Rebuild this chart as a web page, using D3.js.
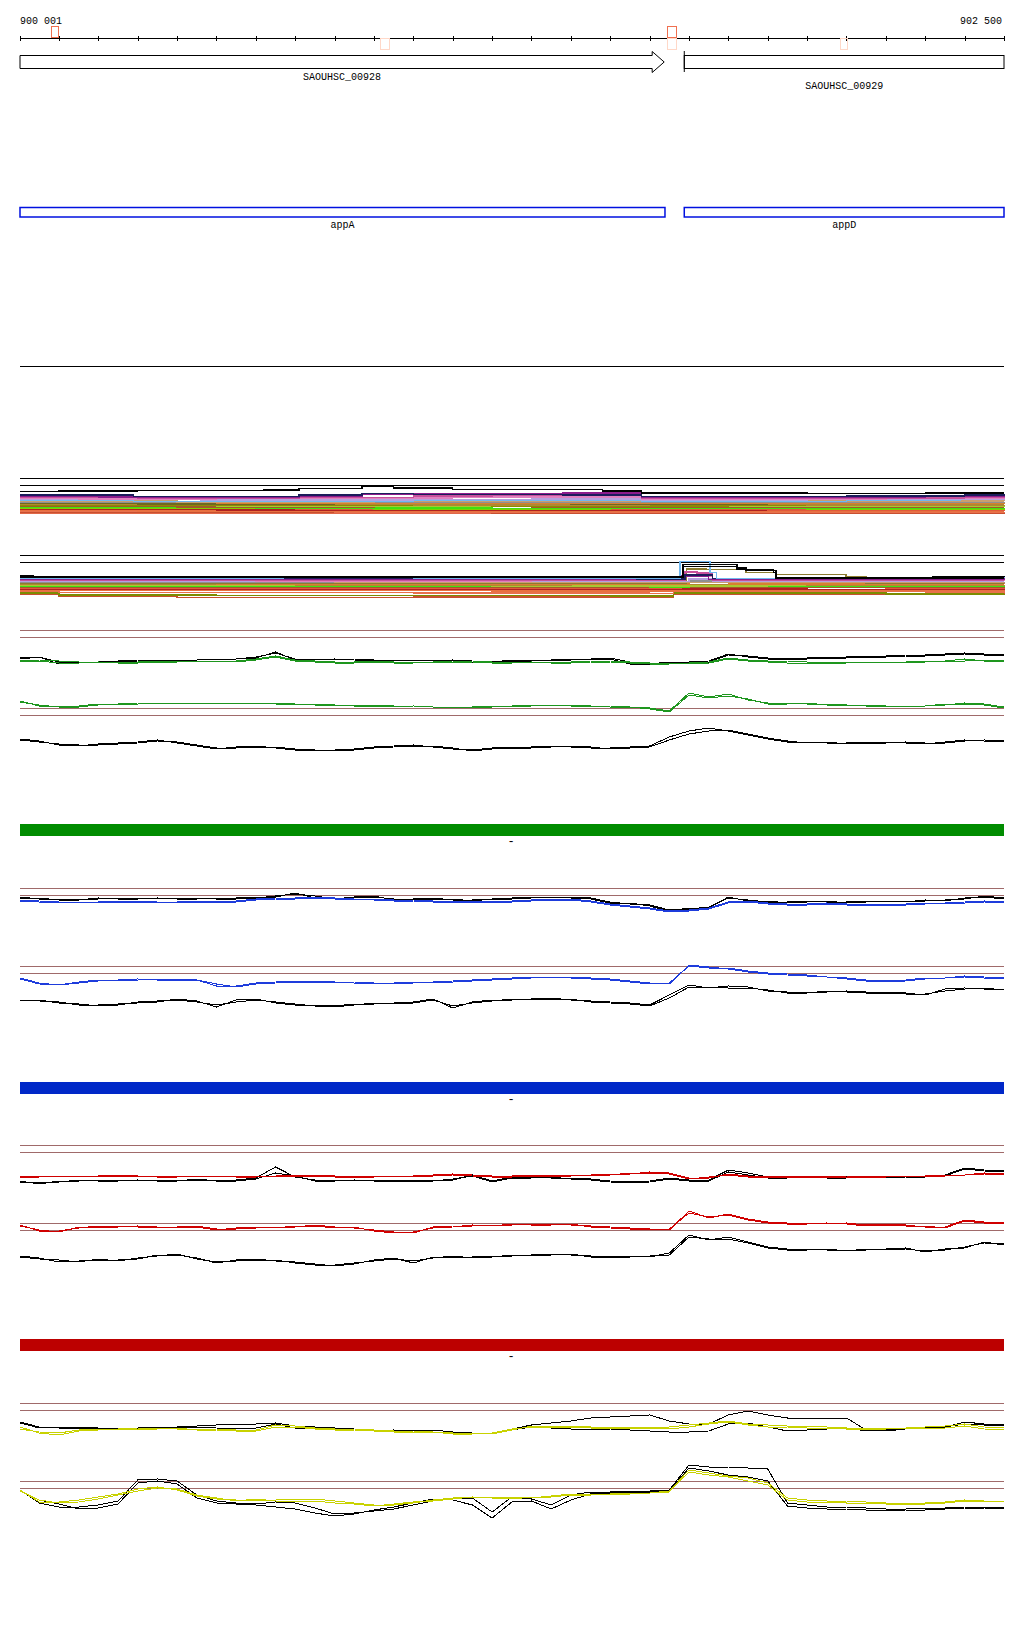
<!DOCTYPE html>
<html>
<head>
<meta charset="utf-8">
<script src="https://cdnjs.cloudflare.com/ajax/libs/d3/7.8.5/d3.min.js"></script>
<style>
body { margin:0; background:#fff; }
svg text { font-family:"Liberation Mono", "DejaVu Sans Mono", monospace; font-size:10px; fill:#000; }
</style>
</head>
<body>
<svg id="browser" width="1024" height="1640"></svg>
<script>
var startBp = 900001, endBp = 902500;
var rulerLabels = ["900 001", "902 500"];

// little feature boxes on the ruler
var markStart = [900080, 901644, 900915, 901644, 902083];
var markEnd   = [900098, 901667, 900938, 901667, 902102];
var markSide  = ["up", "up", "down", "down", "down"];
var markColor = ["#f07050", "#f07050", "#ffd8c8", "#ffd8c8", "#ffd8c8"];

var geneNames = ["SAOUHSC_00928", "SAOUHSC_00929"];
var geneStart = [900001, 901688];
var geneEnd   = [901637, 902500];
var operonNames = ["appA", "appD"];
var operonStart = [900001, 901688];
var operonEnd   = [901639, 902500];

// sample grid, every 50 bp
var gridBp = d3.range(51).map(function(i){ return i === 0 ? startBp : 900000 + 50 * i; });

// green condition
var grnP1k1 = [12.1,12.3,11.8,11.8,11.8,11.9,12.0,12.0,12.0,12.0,12.1,12.1,12.3,12.7,12.1,12.1,12.1,12.1,12.0,12.0,12.0,11.9,12.0,11.8,11.8,12.0,12.0,12.0,12.1,12.1,12.2,11.8,11.6,11.8,11.8,11.8,12.5,12.4,12.2,12.2,12.2,12.3,12.3,12.4,12.4,12.5,12.5,12.6,12.7,12.6,12.6];
var grnP1k2 = [12.2,12.3,11.6,11.7,11.8,11.8,11.9,12.0,12.0,12.0,12.1,12.1,12.2,12.8,12.0,12.0,12.1,12.0,11.9,11.9,12.0,12.0,12.0,11.9,11.7,11.9,11.9,12.0,12.0,12.1,12.1,11.6,11.5,11.7,11.8,11.9,12.6,12.3,12.1,12.1,12.1,12.2,12.2,12.3,12.3,12.4,12.4,12.5,12.6,12.5,12.5];
var grnP1c1 = [12.0,12.0,11.9,11.8,11.8,11.8,11.8,11.9,11.9,11.9,11.9,11.9,12.1,12.4,12.0,11.9,11.8,11.8,11.9,11.8,11.8,11.8,11.9,11.9,11.8,11.8,11.8,11.8,11.8,11.9,11.9,11.8,11.7,11.7,11.7,11.8,12.2,12.0,11.9,11.9,11.8,11.8,11.8,11.8,11.8,11.8,11.8,11.9,11.9,12.0,12.0];
var grnP1c2 = [11.9,11.9,11.7,11.7,11.8,11.7,11.7,11.8,11.8,11.9,11.9,11.8,12.0,12.3,11.9,11.8,11.7,11.7,11.8,11.7,11.7,11.8,11.8,11.8,11.7,11.7,11.8,11.7,11.7,11.8,11.8,11.7,11.6,11.6,11.7,11.7,12.1,11.9,11.8,11.7,11.7,11.7,11.7,11.8,11.8,11.8,11.9,11.9,12.1,11.9,11.9];
var grnP2c1 = [7.9,7.4,7.4,7.4,7.6,7.6,7.6,7.7,7.7,7.7,7.6,7.7,7.7,7.7,7.6,7.6,7.5,7.5,7.5,7.4,7.4,7.3,7.3,7.3,7.3,7.4,7.5,7.5,7.4,7.4,7.4,7.3,7.2,6.9,8.7,8.3,8.6,8.0,7.7,7.7,7.6,7.6,7.5,7.5,7.4,7.4,7.4,7.5,7.7,7.6,7.3];
var grnP2c2 = [7.8,7.5,7.3,7.3,7.5,7.6,7.7,7.7,7.6,7.7,7.7,7.6,7.7,7.6,7.6,7.5,7.5,7.4,7.4,7.3,7.4,7.3,7.2,7.3,7.4,7.4,7.4,7.5,7.5,7.4,7.3,7.3,7.1,6.8,8.5,8.2,8.4,8.1,7.6,7.6,7.7,7.5,7.5,7.4,7.4,7.3,7.4,7.6,7.6,7.5,7.2];
var grnP2k1 = [4.1,3.9,3.5,3.4,3.6,3.7,3.8,4.0,3.7,3.4,3.1,3.3,3.4,3.2,3.0,2.9,3.0,3.1,3.3,3.4,3.5,3.3,3.1,3.0,3.2,3.3,3.3,3.4,3.3,3.2,3.2,3.3,3.4,4.3,4.9,5.2,4.9,4.5,4.1,3.8,3.8,3.7,3.7,3.8,3.8,3.7,3.6,3.8,4.0,3.9,3.9];
var grnP2k2 = [4.0,3.8,3.6,3.5,3.5,3.6,3.7,3.9,3.8,3.5,3.2,3.2,3.3,3.3,3.1,3.0,2.9,3.0,3.2,3.3,3.4,3.4,3.2,2.9,3.1,3.2,3.2,3.3,3.4,3.3,3.1,3.2,3.3,4.0,4.6,4.9,5.0,4.6,4.2,3.9,3.7,3.8,3.6,3.7,3.7,3.8,3.7,3.7,3.9,4.0,3.9];

// blue condition
var bluP1k1 = [14.1,13.9,13.9,13.9,13.9,14.0,14.0,13.9,14.0,14.0,13.9,13.9,14.0,14.2,14.4,14.2,13.9,14.1,14.2,13.8,13.9,14.0,13.8,13.8,13.9,14.0,14.1,14.1,14.1,14.0,13.6,13.4,13.3,12.8,12.9,13.1,14.0,13.8,13.6,13.6,13.7,13.6,13.6,13.7,13.6,13.7,13.7,13.8,13.9,14.2,14.0];
var bluP1k2 = [14.0,14.0,13.8,13.8,14.0,13.9,13.9,14.0,13.9,13.9,14.0,14.0,14.1,14.1,14.5,14.0,14.0,14.0,14.1,13.9,13.8,13.9,13.9,13.7,13.9,13.9,14.0,14.1,14.0,13.9,13.5,13.5,13.2,12.7,13.0,13.0,14.1,13.7,13.7,13.5,13.6,13.7,13.5,13.6,13.7,13.6,13.8,13.7,14.0,14.1,13.9];
var bluP1c1 = [13.8,13.7,13.6,13.6,13.6,13.7,13.7,13.6,13.6,13.7,13.7,13.7,13.9,14.0,14.0,14.1,14.0,13.9,13.9,13.8,13.8,13.7,13.7,13.6,13.7,13.7,13.8,13.9,13.9,13.7,13.4,13.2,13.0,12.7,12.8,13.0,13.6,13.7,13.5,13.4,13.4,13.5,13.4,13.3,13.4,13.4,13.5,13.5,13.6,13.7,13.6];
var bluP1c2 = [13.7,13.6,13.6,13.5,13.6,13.6,13.6,13.6,13.5,13.6,13.6,13.6,13.8,13.9,13.9,14.0,13.9,13.9,13.8,13.7,13.7,13.6,13.6,13.6,13.6,13.6,13.7,13.8,13.8,13.6,13.3,13.1,12.9,12.6,12.7,12.9,13.5,13.6,13.4,13.3,13.3,13.4,13.3,13.2,13.3,13.3,13.4,13.5,13.5,13.6,13.5];
var bluP2c1 = [6.0,5.5,5.3,5.6,5.8,5.8,5.8,5.9,5.9,5.8,5.2,5.2,5.5,5.6,5.7,5.7,5.6,5.6,5.5,5.5,5.6,5.6,5.7,5.8,5.9,6.0,6.1,6.1,6.1,6.0,5.9,5.7,5.5,5.4,7.3,7.1,6.9,6.6,6.4,6.3,6.2,6.1,6.0,5.8,5.7,5.8,6.0,6.0,6.1,6.0,6.0];
var bluP2c2 = [5.9,5.4,5.3,5.5,5.7,5.8,5.9,5.8,5.8,5.8,5.4,5.1,5.4,5.5,5.6,5.6,5.6,5.5,5.5,5.4,5.5,5.6,5.6,5.7,5.8,5.9,6.0,6.1,6.0,5.9,5.8,5.6,5.4,5.5,7.2,7.0,7.0,6.7,6.5,6.4,6.3,6.1,5.9,5.7,5.6,5.7,5.9,6.0,6.2,6.1,6.0];
var bluP2k1 = [3.8,3.7,3.6,3.3,3.3,3.4,3.5,3.6,3.9,3.7,3.1,3.8,3.9,3.5,3.3,3.3,3.2,3.4,3.4,3.5,3.6,3.9,3.0,3.6,3.8,3.8,3.9,4.0,3.8,3.7,3.6,3.5,3.3,4.3,5.3,5.0,5.2,5.1,4.7,4.6,4.6,4.6,4.7,4.6,4.6,4.5,4.3,4.9,5.0,4.9,4.9];
var bluP2k2 = [3.7,3.8,3.5,3.4,3.2,3.3,3.6,3.7,3.8,3.6,3.3,3.6,3.8,3.6,3.4,3.2,3.1,3.3,3.5,3.4,3.5,3.8,3.2,3.5,3.7,3.9,3.8,3.9,3.9,3.6,3.5,3.4,3.2,4.0,5.1,5.1,5.0,5.0,4.8,4.5,4.5,4.7,4.6,4.5,4.5,4.4,4.4,4.7,4.9,5.0,4.8];

// red condition
var redP1k1 = [11.4,11.1,11.4,11.4,11.5,11.5,11.4,11.5,11.5,11.5,11.5,11.5,11.7,12.8,11.8,11.5,11.5,11.4,11.5,11.5,11.5,11.5,11.5,12.0,11.4,11.8,11.8,11.7,11.7,11.6,11.4,11.3,11.4,11.7,11.5,11.5,12.5,12.2,11.8,11.8,11.9,11.8,11.8,11.9,11.8,11.9,11.9,12.0,12.7,12.5,12.4];
var redP1k2 = [11.2,11.3,11.3,11.5,11.4,11.4,11.5,11.4,11.4,11.6,11.4,11.4,11.6,12.2,11.9,11.4,11.4,11.5,11.4,11.4,11.4,11.4,11.6,11.9,11.3,11.7,11.7,11.8,11.6,11.5,11.3,11.2,11.3,11.6,11.4,11.4,12.3,12.0,11.7,11.7,11.8,11.7,11.7,11.8,11.7,11.8,11.8,11.9,12.6,12.4,12.3];
var redP1c1 = [11.9,11.9,11.9,11.9,11.9,12.0,11.9,11.9,11.9,11.9,11.9,11.9,11.9,11.9,12.0,12.0,11.9,11.9,11.9,11.9,11.9,12.0,12.1,12.0,11.9,11.9,12.0,12.0,12.0,12.0,12.1,12.1,12.3,12.2,11.7,11.7,12.1,11.9,11.9,11.8,11.9,11.9,11.9,11.8,11.9,11.9,11.9,12.0,12.0,12.2,12.1];
var redP1c2 = [11.8,11.8,11.9,11.8,11.9,11.9,11.9,11.8,11.8,11.9,11.9,11.8,11.8,11.9,11.9,11.9,11.8,11.8,11.8,11.9,11.9,11.9,12.0,11.9,11.8,11.8,11.9,11.9,11.9,12.0,12.0,12.2,12.2,12.1,11.6,11.8,12.0,11.8,11.8,11.8,11.8,11.8,11.8,11.8,11.8,11.9,11.9,11.9,12.0,12.1,12.0];
var redP2c1 = [7.0,6.4,6.4,6.7,6.9,6.9,6.8,6.7,6.8,6.9,6.6,6.6,6.7,6.8,6.8,7.0,6.8,6.7,6.5,6.3,6.2,6.8,6.9,6.9,7.0,7.0,7.1,7.1,7.0,6.9,6.8,6.7,6.6,6.5,8.4,7.7,8.1,7.6,7.3,7.2,7.2,7.1,7.2,7.0,7.1,7.0,6.8,6.8,7.5,7.3,7.3];
var redP2c2 = [6.9,6.5,6.3,6.8,6.8,6.8,6.9,6.8,6.7,6.8,6.5,6.7,6.8,6.7,6.9,6.9,6.7,6.8,6.4,6.2,6.3,6.7,6.8,7.0,6.9,7.1,7.0,7.0,7.1,6.8,6.7,6.6,6.5,6.6,8.2,7.8,8.0,7.5,7.2,7.1,7.1,7.2,7.1,6.9,7.0,6.9,6.9,6.7,7.4,7.2,7.2];
var redP2k1 = [3.9,3.7,3.3,3.4,3.5,3.5,3.6,4.0,4.0,3.7,3.2,3.5,3.6,3.4,3.3,3.1,2.9,3.1,3.5,3.7,3.2,3.8,3.8,3.8,3.9,3.9,4.0,4.1,4.0,3.9,3.9,3.9,3.8,4.2,6.0,5.5,5.8,5.3,4.8,4.6,4.6,4.5,4.5,4.5,4.6,4.7,4.3,4.6,4.7,5.3,5.0];
var redP2k2 = [3.8,3.6,3.5,3.3,3.6,3.4,3.7,3.9,4.1,3.6,3.3,3.4,3.5,3.5,3.2,3.0,3.0,3.2,3.4,3.6,3.4,3.7,3.9,3.7,3.8,4.0,3.9,4.0,4.1,3.8,3.8,3.8,3.9,4.0,5.8,5.6,5.6,5.2,4.7,4.5,4.5,4.6,4.4,4.6,4.5,4.6,4.4,4.5,4.8,5.2,5.1];

// yellow condition
var yelP1k1 = [13.1,12.6,12.5,12.5,12.4,12.4,12.5,12.6,12.6,12.7,12.8,12.9,12.9,13.0,12.7,12.6,12.5,12.4,12.3,12.2,12.2,12.3,12.1,12.0,11.9,12.4,12.8,13.0,13.2,13.5,13.6,13.7,13.8,13.2,12.9,12.9,13.8,14.2,13.8,13.5,13.5,13.5,13.5,12.3,12.2,12.4,12.5,12.6,13.1,12.9,12.9];
var yelP1k2 = [13.0,12.5,12.6,12.6,12.5,12.5,12.4,12.5,12.5,12.6,12.5,12.4,12.5,12.9,12.5,12.4,12.4,12.3,12.2,12.3,12.2,12.1,12.1,12.0,11.9,12.3,12.6,12.5,12.4,12.4,12.4,12.3,12.2,12.1,12.1,12.2,12.9,13.0,12.6,12.2,12.3,12.4,12.5,12.2,12.3,12.5,12.5,12.6,12.9,12.8,12.8];
var yelP1c1 = [12.4,12.1,12.0,12.3,12.4,12.4,12.5,12.5,12.4,12.4,12.4,12.3,12.3,12.8,12.7,12.5,12.4,12.4,12.3,12.2,12.2,12.1,12.0,12.0,11.9,12.3,12.7,12.7,12.7,12.6,12.6,12.6,12.6,12.6,12.8,13.0,13.2,12.9,12.8,12.7,12.7,12.6,12.5,12.5,12.5,12.5,12.6,12.7,12.9,12.6,12.5];
var yelP1c2 = [12.6,12.0,11.8,12.2,12.3,12.4,12.4,12.4,12.5,12.3,12.3,12.2,12.2,12.6,12.6,12.4,12.3,12.3,12.2,12.1,12.1,12.1,11.9,11.9,12.0,12.4,12.6,12.6,12.6,12.5,12.5,12.5,12.5,12.4,12.6,12.9,13.1,12.8,12.6,12.6,12.5,12.5,12.4,12.4,12.4,12.5,12.5,12.5,12.7,12.4,12.3];
var yelP2c1 = [6.3,5.1,5.1,5.3,5.6,5.9,6.4,6.6,6.3,5.7,5.4,5.3,5.3,5.3,5.4,5.4,5.2,5.0,4.8,4.8,5.0,5.3,5.5,5.6,5.6,5.6,5.5,5.7,5.9,5.9,5.9,6.0,6.0,6.2,8.3,8.0,7.7,7.5,7.0,5.5,5.3,5.2,5.2,5.1,5.0,4.9,5.0,5.1,5.3,5.2,5.1];
var yelP2c2 = [6.2,5.3,5.0,5.1,5.4,5.8,6.2,6.5,6.4,5.8,5.5,5.2,5.4,5.2,5.2,5.2,5.0,4.9,4.7,4.9,5.1,5.2,5.4,5.6,5.5,5.4,5.6,5.6,5.8,5.8,5.9,5.9,6.0,6.1,8.1,7.8,7.6,7.2,6.8,5.3,5.1,5.1,5.0,5.0,4.9,4.8,4.9,5.0,5.2,5.2,5.2];
var yelP2k1 = [6.3,5.0,4.6,4.6,4.8,5.2,7.3,7.4,7.2,5.8,5.2,5.0,4.9,5.1,5.0,4.5,3.9,4.0,4.2,4.4,4.8,5.2,5.5,5.5,4.1,5.6,5.4,4.8,5.8,6.1,6.1,6.2,6.2,6.3,8.8,8.6,8.6,8.5,8.4,5.0,4.8,4.6,4.6,4.5,4.4,4.4,4.5,4.5,4.6,4.6,4.6];
var yelP2k2 = [6.2,5.3,4.9,4.4,4.5,4.9,7.0,7.2,6.9,5.5,5.0,4.9,4.8,4.6,4.4,4.0,3.7,3.9,4.3,4.6,5.0,5.4,5.3,4.8,3.5,5.1,5.2,4.4,5.3,5.9,6.0,6.1,6.1,6.2,8.5,8.2,7.8,7.6,7.2,4.7,4.5,4.4,4.4,4.3,4.2,4.3,4.3,4.4,4.5,4.5,4.4];

// multi-sample tracks: [start bp, level] steps
var stackColorsA = ["#000000","#1c1c5c","#8c1c8c","#c8509c","#e080c0","#b4a0e0","#70b8f0","#c8a070","#909090","#d88030","#706820","#b08830","#8c8c00","#a8c830","#a05a28","#40e010","#80d000","#e0583c","#b02020","#e87040","#e8704c","#c85030","#e06848"];
var stackA = [
  [[900001,3.63],[900100,3.70],[900300,3.73],[900460,3.76],[900620,3.8],[900710,3.95],[900800,3.98],[900870,4.13],[900950,4.0],[901100,3.88],[901380,3.85],[901480,3.7],[901580,3.5],[902000,3.45],[902300,3.5],[902500,3.5]],
  [[900001,3.3],[900290,3.17],[900460,3.15],[900620,3.13],[900710,3.3],[900870,3.45],[901000,3.38],[901380,3.3],[901580,3.15],[902100,3.2],[902400,3.3],[902500,3.25]],
  [[900001,3.15],[900200,3.1],[900460,3.03],[900710,3.18],[900870,3.35],[901000,3.42],[901380,3.5],[901580,3.08],[901900,3.1],[902300,3.18],[902500,3.12]],
  [[900001,3.05],[900300,2.98],[900710,3.08],[901000,3.22],[901200,3.28],[901480,3.32],[901580,2.98],[902000,3.0],[902400,3.05],[902500,3.0]],
  [[900001,2.98],[900150,2.92],[900500,2.95],[900800,3.0],[901100,3.1],[901580,2.9],[902200,2.95],[902500,2.92]],
  [[900001,2.88],[900200,2.85],[900460,2.82],[901000,2.88],[901300,2.92],[901580,2.78],[902000,2.85],[902500,2.8]],
  [[900001,2.75],[900290,2.68],[900700,2.72],[901000,2.76],[901580,2.66],[902100,2.78],[902390,2.92],[902450,2.85],[902500,2.82]],
  [[900001,2.7],[900400,2.62],[900900,2.68],[901300,2.65],[901800,2.72],[902500,2.7]],
  [[900001,2.62],[900700,2.56],[901100,2.6],[901500,2.62],[902000,2.58],[902500,2.62]],
  [[900001,2.55],[900500,2.48],[901000,2.5],[901500,2.45],[902000,2.5],[902500,2.52]],
  [[900001,2.48],[900300,2.42],[900800,2.45],[901400,2.4],[901900,2.45],[902500,2.4]],
  [[900001,2.4],[900600,2.35],[901000,2.3],[901600,2.36],[902000,2.32],[902500,2.35]],
  [[900001,2.32],[900300,2.25],[900900,2.28],[901200,2.22],[901800,2.26],[902500,2.22]],
  [[900001,2.25],[900500,2.18],[901000,2.2],[901500,2.15],[902100,2.18],[902500,2.2]],
  [[900001,2.18],[900400,2.12],[900900,2.15],[901300,2.1],[901800,2.12],[902500,2.1]],
  [[900001,2.08],[900600,2.02],[901200,1.98],[901700,2.0],[902100,1.95],[902500,2.0]],
  [[900001,2.0],[900400,1.95],[900900,1.92],[901500,1.95],[902000,1.9],[902500,1.92]],
  [[900001,1.93],[900700,1.88],[901300,1.86],[901900,1.82],[902500,1.85]],
  [[900001,1.85],[900500,1.8],[901100,1.78],[901700,1.75],[902500,1.75]],
  [[900001,1.78],[900300,1.72],[900900,1.7],[901500,1.68],[902200,1.7],[902500,1.68]],
  [[900001,1.68],[900800,1.62],[901400,1.6],[902000,1.58],[902500,1.6]],
  [[900001,1.58],[900600,1.55],[901200,1.52],[901800,1.5],[902500,1.52]],
  [[900001,1.45],[900100,1.5],[900700,1.52],[901400,1.48],[901580,1.45],[902500,1.46]]
];
var stackColorsB = ["#000000","#000000","#70b8f0","#1c1c5c","#8c1c8c","#c8509c","#e080c0","#b4a0e0","#c8a070","#909090","#8c7c30","#d88030","#b08830","#a8c830","#40e010","#a05a28","#e0583c","#b02020","#e87040","#e8704c","#7c8c00","#c85030"];
var stackB = [
  [[900001,2.9],[900034,2.75],[900800,2.73],[901560,2.75],[901667,2.75],[901685,4.03],[901822,3.76],[901845,3.53],[901914,3.23],[901921,2.78],[902320,2.8],[902500,2.78]],
  [[900001,2.8],[901685,3.83],[901822,3.6],[901845,3.43],[901921,2.72],[902500,2.72]],
  [[900001,2.68],[900670,2.75],[901000,2.7],[901566,2.66],[901677,4.36],[901743,4.36],[901753,3.23],[901770,2.68],[902320,2.76],[902500,2.72]],
  [[900001,2.72],[900300,2.68],[901000,2.66],[901566,2.62],[901690,3.0],[901760,2.64],[902200,2.68],[902500,2.66]],
  [[900001,2.6],[900460,2.56],[901000,2.6],[901566,2.56],[901680,2.9],[901750,2.56],[902100,2.6],[902500,2.55]],
  [[900001,2.52],[900400,2.5],[901200,2.48],[901650,2.5],[901690,3.3],[901720,3.2],[901760,2.5],[902300,2.52],[902500,2.48]],
  [[900001,2.45],[900600,2.42],[901300,2.45],[901690,2.9],[901760,2.45],[902500,2.42]],
  [[900001,2.4],[900300,2.36],[901000,2.38],[901700,2.6],[901760,2.38],[902500,2.36]],
  [[900001,2.33],[900800,2.3],[901500,2.28],[901760,2.3],[902500,2.3]],
  [[900001,2.28],[901000,2.24],[901700,2.4],[901760,2.24],[902500,2.22]],
  [[900001,2.2],[901693,3.6],[901743,3.53],[901845,3.23],[901921,3.03],[902099,2.85],[902150,2.2],[902500,2.18]],
  [[900001,2.15],[900500,2.1],[901600,2.12],[901700,2.3],[901800,2.12],[902500,2.1]],
  [[900001,2.08],[900700,2.02],[901400,2.05],[902000,2.0],[902500,2.02]],
  [[900001,1.98],[900500,1.95],[901200,1.92],[901900,1.95],[902500,1.92]],
  [[900001,1.9],[900900,1.85],[901600,1.82],[901700,1.9],[902200,1.85],[902500,1.86]],
  [[900001,1.82],[900400,1.78],[901100,1.75],[901800,1.78],[902500,1.75]],
  [[900001,1.72],[900800,1.7],[901680,1.75],[902200,1.65],[902500,1.66]],
  [[900001,1.62],[900600,1.58],[901680,1.62],[902000,1.55],[902500,1.52]],
  [[900001,1.52],[900300,1.45],[901200,1.42],[901680,1.5],[902500,1.4]],
  [[900001,1.4],[900100,1.25],[901000,1.22],[901600,1.18],[901660,1.35],[902300,1.3],[902500,1.25]],
  [[900001,1.2],[900100,1.0],[900500,0.95],[901100,0.98],[901500,0.92],[901660,1.2],[902200,1.12],[902500,1.15]],
  [[900001,1.05],[900100,0.85],[900400,0.78],[901000,0.82],[901500,0.8],[901660,1.1],[902500,1.05]]
];

var svg = d3.select("#browser");
var x = d3.scaleLinear().domain([startBp, endBp]).range([20, 1004]);

// ruler
var rulerY = 38;
svg.append("line").attr("x1", x(startBp)).attr("x2", x(endBp)).attr("y1", rulerY + 0.5).attr("y2", rulerY + 0.5).attr("stroke", "#000");
var tickVals = [startBp].concat(d3.range(900100, endBp + 1, 100));
svg.selectAll(".tick").data(tickVals).enter().append("line")
  .attr("x1", function(d){ return Math.round(x(d)) + 0.5; })
  .attr("x2", function(d){ return Math.round(x(d)) + 0.5; })
  .attr("y1", rulerY - 2).attr("y2", rulerY + 3).attr("stroke", "#000");
svg.append("text").attr("x", 20).attr("y", 24).text(rulerLabels[0]);
svg.append("text").attr("x", 1002).attr("y", 24).attr("text-anchor", "end").text(rulerLabels[1]);

markStart.forEach(function(s, i){
  svg.append("rect")
    .attr("x", Math.round(x(s)) + 0.5).attr("width", Math.round(x(markEnd[i]) - x(s)))
    .attr("y", markSide[i] === "up" ? 26.5 : 38.5).attr("height", 11)
    .attr("fill", "none").attr("stroke", markColor[i]);
});

// genes
var g0 = x(geneStart[0]), g1 = x(geneEnd[0]);
svg.append("path")
  .attr("d", "M" + g0 + ",55.5 L" + (g1 - 12) + ",55.5 L" + (g1 - 12) + ",51.5 L" + g1 + ",62 L" + (g1 - 12) + ",72.5 L" + (g1 - 12) + ",68.5 L" + g0 + ",68.5 Z")
  .attr("fill", "#fff").attr("stroke", "#000");
svg.append("rect").attr("x", x(geneStart[1])).attr("y", 55.5)
  .attr("width", x(geneEnd[1]) - x(geneStart[1])).attr("height", 13)
  .attr("fill", "#fff").attr("stroke", "#000");
svg.append("line").attr("x1", x(geneStart[1])).attr("x2", x(geneStart[1])).attr("y1", 51).attr("y2", 72).attr("stroke", "#000");
geneNames.forEach(function(n, i){
  svg.append("text").attr("x", (x(geneStart[i]) + x(geneEnd[i])) / 2).attr("y", i === 0 ? 80 : 89)
    .attr("text-anchor", "middle").text(n);
});

// operons
operonNames.forEach(function(n, i){
  svg.append("rect").attr("x", x(operonStart[i])).attr("y", 207.5)
    .attr("width", x(operonEnd[i]) - x(operonStart[i])).attr("height", 9.5)
    .attr("fill", "#fff").attr("stroke", "#0010e0").attr("stroke-width", 1.5);
  svg.append("text").attr("x", (x(operonStart[i]) + x(operonEnd[i])) / 2).attr("y", 228)
    .attr("text-anchor", "middle").text(n);
});

svg.append("line").attr("x1", 20).attr("x2", 1004).attr("y1", 366.5).attr("y2", 366.5).attr("stroke", "#000");

// stacked tracks, drawn bottom-up so the first series sits on top
function drawStack(series, colors, top) {
  var y = d3.scaleLinear().domain([0, 5]).range([top + 50, top]);
  [5, 4.35].forEach(function(v){
    svg.append("line").attr("x1", 20).attr("x2", 1004).attr("y1", Math.round(y(v)) + 0.5).attr("y2", Math.round(y(v)) + 0.5).attr("stroke", "#000");
  });
  var line = d3.line().x(function(d){ return x(d[0]); }).y(function(d){ return y(d[1]); }).curve(d3.curveStepAfter);
  for (var i = series.length - 1; i >= 0; i--) {
    svg.append("path").attr("d", line(series[i])).attr("fill", "none")
      .attr("stroke", colors[i]).attr("stroke-width", 1.4).attr("shape-rendering", "crispEdges");
  }
}
drawStack(stackA, stackColorsA, 478);
drawStack(stackB, stackColorsB, 555);

// condition sections
var sectionTops = [630, 888, 1145, 1403];
var sectionColors = ["#1e961e", "#1e3cdc", "#d00000", "#c8d200"];
var barColors = ["#008c00", "#0028c8", "#bc0000"];
var thresholds = [15, 14.3, 7.25, 6.55];
var sectionSeries = [
  [grnP1k1, grnP1k2, grnP2k1, grnP2k2, grnP1c1, grnP1c2, grnP2c1, grnP2c2],
  [bluP1k1, bluP1k2, bluP2k1, bluP2k2, bluP1c1, bluP1c2, bluP2c1, bluP2c2],
  [redP1k1, redP1k2, redP2k1, redP2k2, redP1c1, redP1c2, redP2c1, redP2c2],
  [yelP1k1, yelP1k2, yelP2k1, yelP2k2, yelP1c1, yelP1c2, yelP2c1, yelP2c2]
];

sectionTops.forEach(function(top, si){
  var y = d3.scaleLinear().domain([2, 16]).range([top + 130, top - 10]);
  thresholds.forEach(function(t){
    var yy = Math.round(y(t)) + 0.5;
    svg.append("line").attr("x1", 20).attr("x2", 1004).attr("y1", yy).attr("y2", yy).attr("stroke", "#a06a6a");
  });
  var line = d3.line().x(function(d, i){ return x(gridBp[i]); }).y(function(d){ return y(d); });
  sectionSeries[si].forEach(function(s, k){
    svg.append("path").attr("d", line(s)).attr("fill", "none")
      .attr("stroke", k < 4 ? "#000" : sectionColors[si]).attr("shape-rendering", "crispEdges");
  });
  if (si < barColors.length) {
    svg.append("rect").attr("x", 20).attr("y", top + 194).attr("width", 984).attr("height", 12).attr("fill", barColors[si]);
    svg.append("text").attr("x", 511).attr("y", top + 215).attr("text-anchor", "middle").style("font-size", "12px").text("-");
  }
});
</script>
</body>
</html>
